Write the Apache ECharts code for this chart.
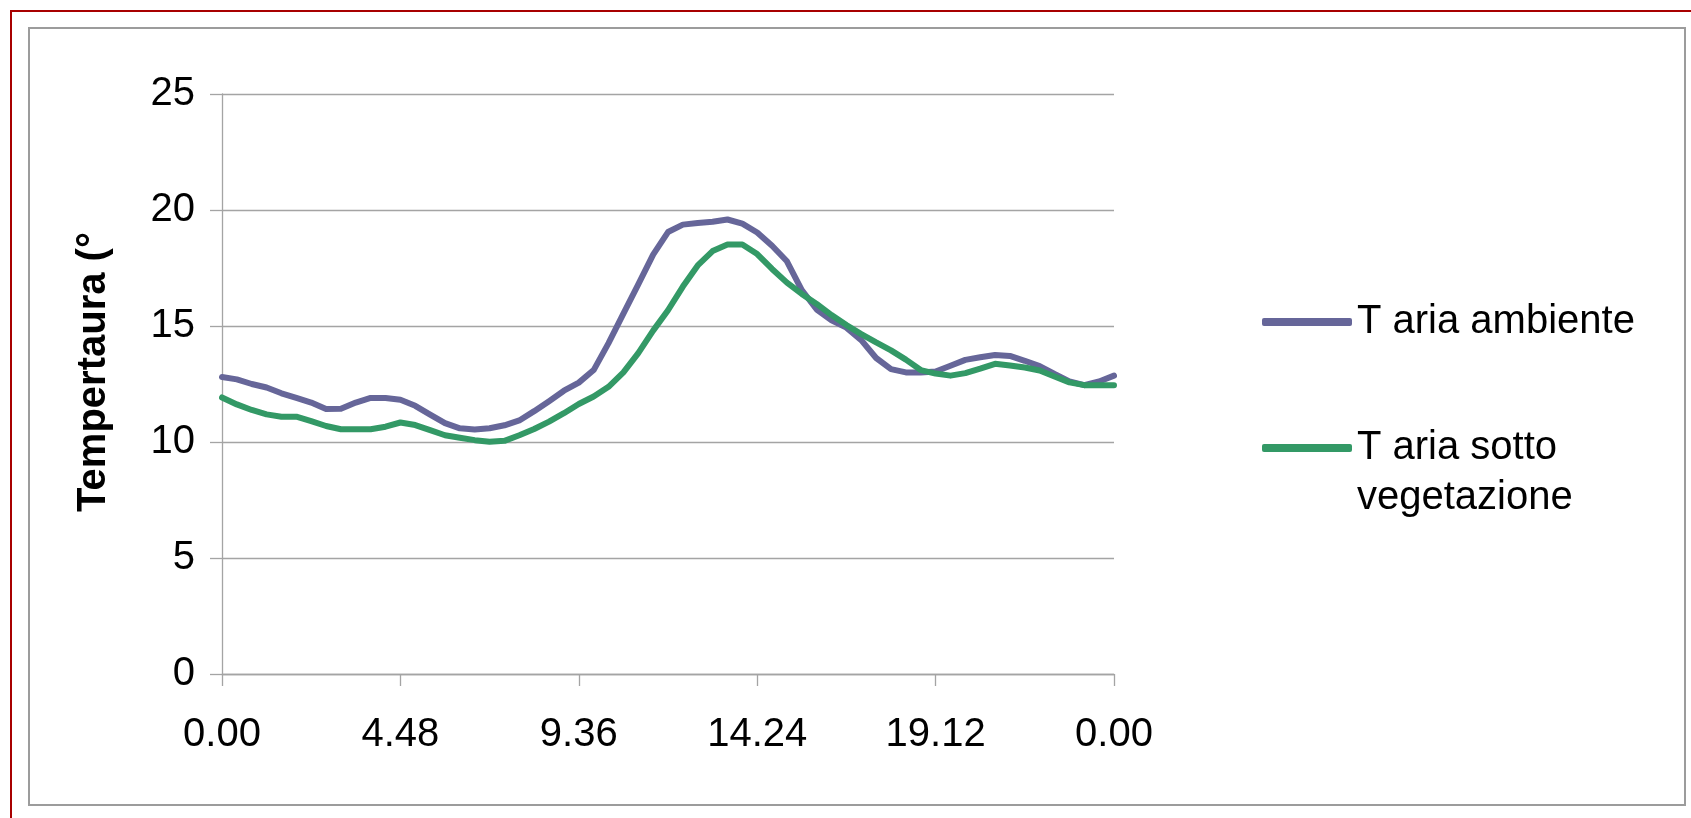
<!DOCTYPE html>
<html>
<head>
<meta charset="utf-8">
<title>Temperatura</title>
<script src="https://cdn.jsdelivr.net/npm/echarts@6/dist/echarts.min.js"></script>
<style>
    html, body { margin: 0; padding: 0; background: #fff; overflow: hidden; }
    #frame { position: absolute; left: 10px; top: 10px; width: 1700px; height: 820px; border-left: 2px solid #a80000; border-top: 2px solid #a80000; }
    #inner { position: absolute; left: 28px; top: 27px; width: 1654px; height: 775px; border: 2px solid #9c9c9c; }
    #ChartDIV { position: absolute; left: 0; top: 0; width: 1691px; height: 818px; }
</style>
</head>
<body>
<div id="frame"></div>
<div id="inner"></div>
<div id="ChartDIV"></div>
<script>
// ora del giorno, un punto ogni 24 minuti
var hours = ['0.00', '0.24', '0.48', '1.12', '1.36', '2.00', '2.24', '2.48', '3.12', '3.36',
    '4.00', '4.24', '4.48', '5.12', '5.36', '6.00', '6.24', '6.48', '7.12', '7.36',
    '8.00', '8.24', '8.48', '9.12', '9.36', '10.00', '10.24', '10.48', '11.12', '11.36',
    '12.00', '12.24', '12.48', '13.12', '13.36', '14.00', '14.24', '14.48', '15.12', '15.36',
    '16.00', '16.24', '16.48', '17.12', '17.36', '18.00', '18.24', '18.48', '19.12', '19.36',
    '20.00', '20.24', '20.48', '21.12', '21.36', '22.00', '22.24', '22.48', '23.12', '23.36',
    '0.00'];

var tAmbiente = [12.8, 12.7, 12.5, 12.35, 12.1, 11.9, 11.7, 11.42, 11.43, 11.7,
    11.9, 11.9, 11.82, 11.56, 11.18, 10.81, 10.59, 10.54, 10.59, 10.72,
    10.93, 11.33, 11.76, 12.21, 12.56, 13.1, 14.26, 15.53, 16.79, 18.08,
    19.05, 19.37, 19.44, 19.49, 19.59, 19.41, 19.03, 18.46, 17.79, 16.55,
    15.71, 15.25, 14.93, 14.39, 13.62, 13.14, 13.0, 13.0, 13.04, 13.29,
    13.54, 13.65, 13.75, 13.71, 13.5, 13.27, 12.93, 12.61, 12.45, 12.61,
    12.86];

var tVegetazione = [11.92, 11.62, 11.38, 11.19, 11.09, 11.09, 10.9, 10.69, 10.55, 10.55,
    10.55, 10.66, 10.84, 10.73, 10.51, 10.29, 10.18, 10.08, 10.01, 10.05,
    10.29, 10.56, 10.88, 11.24, 11.64, 11.96, 12.38, 13.0, 13.83, 14.8,
    15.68, 16.7, 17.61, 18.23, 18.51, 18.51, 18.1, 17.46, 16.87, 16.38,
    15.95, 15.47, 15.04, 14.65, 14.29, 13.95, 13.55, 13.1, 12.95, 12.86,
    12.97, 13.16, 13.37, 13.3, 13.21, 13.08, 12.82, 12.57, 12.45, 12.45,
    12.45];

var yTicks = [0, 5, 10, 15, 20, 25];
var seriesNames = ['T aria ambiente', 'T aria sotto vegetazione'];
var seriesColors = ['#666699', '#339966'];

var myChart = echarts.init(document.getElementById('ChartDIV'));

var fontFamily = '"Liberation Sans", Arial, sans-serif';
var gridColor = '#a4a4a4';

var option = {
    animation: false,
    textStyle: { fontFamily: fontFamily },
    grid: {
        left: 222,
        right: 577,
        top: 94,
        bottom: 144,
        containLabel: false
    },
    legend: [
        {
            data: [seriesNames[0]],
            orient: 'vertical',
            left: 1262,
            top: 298,
            padding: 0,
            icon: 'roundRect',
            itemWidth: 90,
            itemHeight: 8,
            itemGap: 0,
            textStyle: { fontSize: 40, color: '#000', fontFamily: fontFamily, lineHeight: 48 }
        },
        {
            data: [seriesNames[1]],
            orient: 'vertical',
            left: 1262,
            top: 373,
            padding: 0,
            icon: 'roundRect',
            itemWidth: 90,
            itemHeight: 8,
            itemGap: 0,
            // riga vuota sopra, così la prima riga resta allineata alla linea
            formatter: function (name) {
                return ' \nT aria sotto\nvegetazione';
            },
            textStyle: { fontSize: 40, color: '#000', fontFamily: fontFamily, lineHeight: 50 }
        }
    ],
    xAxis: {
        type: 'category',
        data: hours,
        boundaryGap: false,
        axisLine: { lineStyle: { color: gridColor, width: 1.3 } },
        axisTick: { show: true, interval: 11, length: 12, lineStyle: { color: gridColor, width: 1.3 } },
        axisLabel: { interval: 11, margin: 41, fontSize: 40, color: '#000', fontFamily: fontFamily },
        splitLine: { show: false }
    },
    yAxis: {
        type: 'value',
        min: yTicks[0],
        max: yTicks[yTicks.length - 1],
        interval: 5,
        name: 'Tempertaura (°',
        nameLocation: 'middle',
        nameGap: 108,
        nameTextStyle: { fontSize: 40, fontWeight: 'bold', color: '#000', fontFamily: fontFamily, padding: [0, 0, 0, 24] },
        axisLine: { show: true, lineStyle: { color: gridColor, width: 1.3 } },
        axisTick: { show: true, length: 12, lineStyle: { color: gridColor, width: 1.3 } },
        axisLabel: { margin: 27, fontSize: 40, color: '#000', fontFamily: fontFamily },
        splitLine: { show: true, lineStyle: { color: gridColor, width: 1.3 } }
    },
    series: [
        {
            name: seriesNames[0],
            type: 'line',
            data: tAmbiente,
            symbol: 'none',
            smooth: false,
            color: seriesColors[0],
            lineStyle: { width: 6, color: seriesColors[0], cap: 'round', join: 'round' }
        },
        {
            name: seriesNames[1],
            type: 'line',
            data: tVegetazione,
            symbol: 'none',
            smooth: false,
            color: seriesColors[1],
            lineStyle: { width: 6, color: seriesColors[1], cap: 'round', join: 'round' }
        }
    ]
};

myChart.setOption(option);

window.addEventListener('resize', function () {
    myChart.resize();
})
</script>
</body>
</html>
